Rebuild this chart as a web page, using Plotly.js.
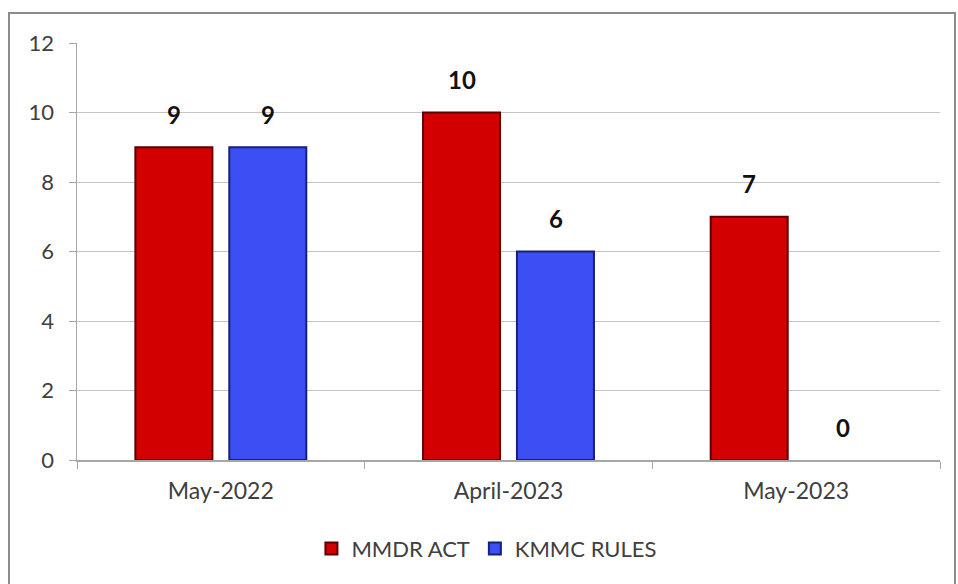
<!DOCTYPE html>
<html>
<head>
<meta charset="utf-8">
<script src="https://cdn.plot.ly/plotly-3.0.1.min.js"></script>
<style>
html,body{margin:0;padding:0;background:#fff;}
#wrap{position:relative;width:958px;height:584px;}
#chart{width:958px;height:584px;}
#frame{position:absolute;left:8px;top:12px;width:944px;height:580px;border:2px solid #8c8c8c;pointer-events:none;}
</style>
</head>
<body>
<div id="wrap"><div id="chart"></div><div id="frame"></div></div>
<script>
const categories = ["May-2022", "April-2023", "May-2023"];
const mmdrAct = [9, 10, 7];
const kmmcRules = [9, 6, 0];
const seriesNames = ["MMDR ACT", "KMMC RULES"];
const yTicks = [0, 2, 4, 6, 8, 10, 12];

const FONT = "Lato, 'Open Sans', sans-serif";

const traces = [
  {type:"bar", name:seriesNames[0], x:categories, y:mmdrAct,
   marker:{color:"#d20000", line:{color:"#5e0000", width:2}}, hoverinfo:"x+y"},
  {type:"bar", name:seriesNames[1], x:categories, y:kmmcRules,
   marker:{color:"#3b4ff2", line:{color:"#16207a", width:kmmcRules.map(v => v > 0 ? 2 : 0)}}, hoverinfo:"x+y"}
];

const annotations = [];
[mmdrAct, kmmcRules].forEach((vals, si) => {
  vals.forEach((v, i) => {
    annotations.push({x:categories[i], y:v, xref:"x", yref:"y", text:String(v),
      showarrow:false, xshift: si === 0 ? -47 : 47, yshift:33,
      font:{family:FONT, size:24, color:"#111", weight:"bold"}});
  });
});

const layout = {
  width:958, height:584,
  margin:{l:77, r:18, t:43, b:124, autoexpand:false},
  paper_bgcolor:"#ffffff", plot_bgcolor:"#ffffff",
  barmode:"group", bargap:0.347, bargroupgap:0.18,
  font:{family:FONT, size:22, color:"#404040"},
  xaxis:{type:"category", showline:true, linecolor:"#a6a6a6", linewidth:1.5,
    ticks:"outside", tickson:"boundaries", ticklen:7, tickcolor:"#a6a6a6",
    ticklabelstandoff:10,
    tickfont:{family:FONT, size:23, color:"#404040"}, showgrid:false},
  yaxis:{range:[0,12], tickvals:yTicks, showline:true, linecolor:"#a6a6a6", linewidth:1.5,
    ticks:"outside", ticklen:7, tickcolor:"#a6a6a6", ticklabelstandoff:10,
    gridcolor:"#c4c4c4", gridwidth:1, zeroline:false,
    tickfont:{family:FONT, size:22, color:"#404040"}},
  legend:{orientation:"h", x:0.475, xanchor:"center", y:-0.213, yanchor:"middle",
    font:{family:FONT, size:22, color:"#404040"}, traceorder:"normal", itemwidth:30},
  annotations:annotations,
  showlegend:true
};

Plotly.newPlot("chart", traces, layout, {displayModeBar:false, staticPlot:true});
</script>
</body>
</html>
